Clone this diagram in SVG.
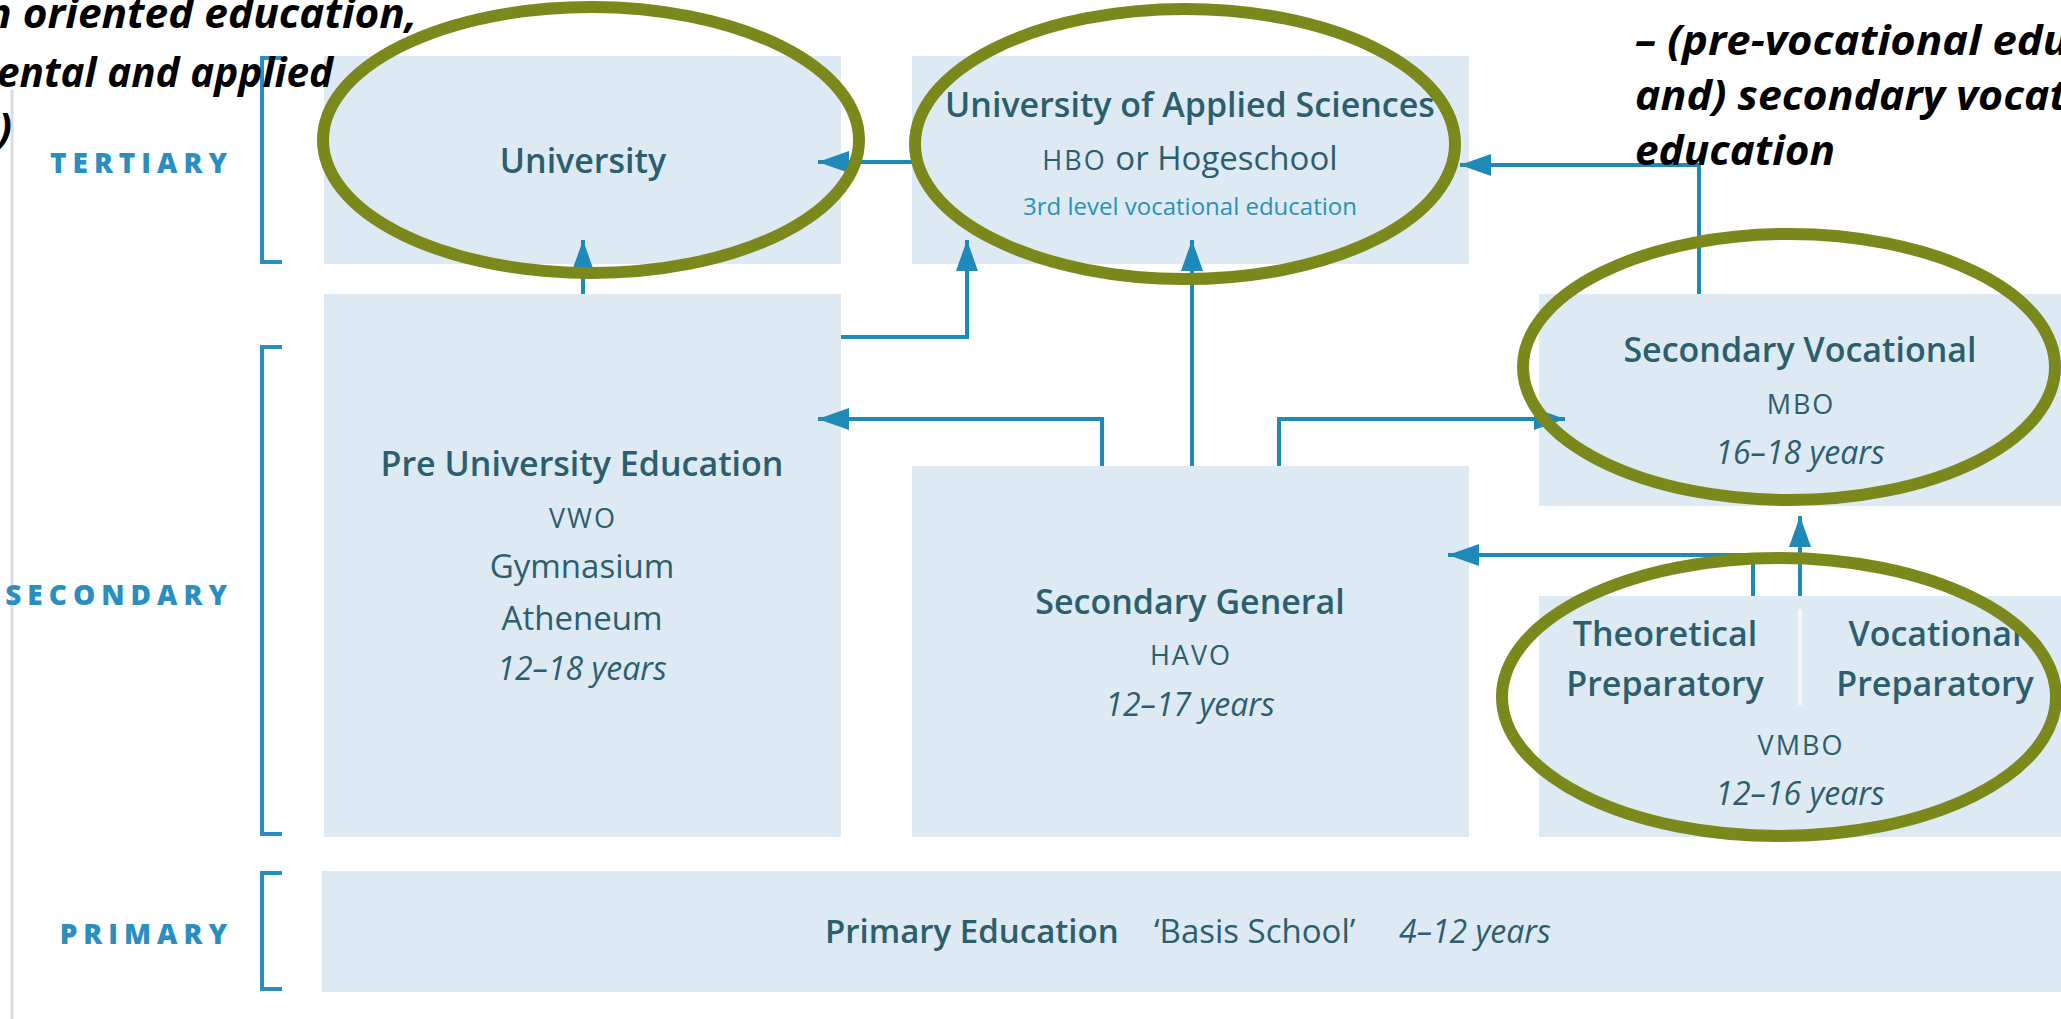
<svg xmlns="http://www.w3.org/2000/svg" width="2061" height="1019" viewBox="0 0 2061 1019">
<defs>
<style>
.box{fill:#dde9f3}
.t{font-family:"Open Sans",Lato,sans-serif;fill:#2c5f6d;text-anchor:middle}
.title{font-size:34px;font-weight:600}
.sub{font-size:33px}
.sc{font-size:27px;letter-spacing:2px}
.yr{font-size:32px;font-style:italic}
.small{font-size:24px;fill:#2a92b6}
.lvl{font-family:"Open Sans",Lato,sans-serif;font-weight:800;font-size:28px;fill:#2a8fc0;letter-spacing:6px;text-anchor:end}
.conn{stroke:#1f8ab8;stroke-width:4;fill:none}
.br{stroke:#2a8fc0;stroke-width:4;fill:none}
.hl{fill:none;stroke:#7b881b;stroke-width:12}
.note{font-family:"Open Sans",Lato,sans-serif;font-weight:bold;font-style:italic;font-size:42px;fill:#000}
</style>
<marker id="arr" markerUnits="userSpaceOnUse" markerWidth="31" markerHeight="22" refX="31" refY="11" orient="auto">
<path d="M0,0 L31,11 L0,22 z" fill="#1f8ab8"/>
</marker>
</defs>
<rect width="2061" height="1019" fill="#fff"/>
<line x1="12" y1="90" x2="12" y2="1019" stroke="#dcdcdc" stroke-width="3"/>

<g id="levels">
<text class="lvl" x="233" y="173">TERTIARY</text>
<text class="lvl" x="233" y="605">SECONDARY</text>
<text class="lvl" x="233" y="944">PRIMARY</text>
<path class="br" d="M282,58 H262 V262 H282"/>
<path class="br" d="M282,347 H262 V834 H282"/>
<path class="br" d="M282,873 H262 V989 H282"/>
</g>

<g id="university">
<rect class="box" x="324" y="56" width="517" height="208"/>
<text class="t title" x="583" y="173">University</text>
</g>

<g id="uas">
<rect class="box" x="912" y="56" width="557" height="208"/>
<text class="t title" x="1190" y="117">University of Applied Sciences</text>
<text class="t sub" x="1190" y="170"><tspan class="sc">HBO</tspan> or Hogeschool</text>
<text class="t small" x="1190" y="215">3rd level vocational education</text>
</g>

<g id="preuniversity">
<rect class="box" x="324" y="294" width="517" height="543"/>
<text class="t title" x="582" y="476">Pre University Education</text>
<text class="t sc" x="583" y="528">VWO</text>
<text class="t sub" x="582" y="578">Gymnasium</text>
<text class="t sub" x="582" y="630">Atheneum</text>
<text class="t yr" x="582" y="680">12–18 years</text>
</g>

<g id="secgeneral">
<rect class="box" x="912" y="466" width="557" height="371"/>
<text class="t title" x="1190" y="614">Secondary General</text>
<text class="t sc" x="1191" y="665">HAVO</text>
<text class="t yr" x="1190" y="716">12–17 years</text>
</g>

<g id="secvocational">
<rect class="box" x="1539" y="294" width="522" height="212"/>
<text class="t title" x="1800" y="362">Secondary Vocational</text>
<text class="t sc" x="1801" y="414">MBO</text>
<text class="t yr" x="1800" y="464">16–18 years</text>
</g>

<g id="vmbo">
<rect class="box" x="1539" y="596" width="522" height="241"/>
<line x1="1800" y1="609" x2="1800" y2="705" stroke="#f4f8fb" stroke-width="4"/>
<text class="t title" x="1665" y="646">Theoretical</text>
<text class="t title" x="1665" y="696">Preparatory</text>
<text class="t title" x="1935" y="646">Vocational</text>
<text class="t title" x="1935" y="696">Preparatory</text>
<text class="t sc" x="1801" y="755">VMBO</text>
<text class="t yr" x="1800" y="805">12–16 years</text>
</g>

<g id="primary">
<rect class="box" x="322" y="871" width="1739" height="121"/>
<text class="t title" x="825" y="943" style="text-anchor:start;font-size:33px">Primary Education</text>
<text class="t sub" x="1154" y="943" style="text-anchor:start">‘Basis School’</text>
<text class="t yr" x="1399" y="943" style="text-anchor:start">4–12 years</text>
</g>

<g id="connectors">
<path class="conn" d="M912,162 H818" marker-end="url(#arr)"/>
<path class="conn" d="M583,294 V240" marker-end="url(#arr)"/>
<path class="conn" d="M841,337 H967 V240" marker-end="url(#arr)"/>
<path class="conn" d="M1192,466 V240" marker-end="url(#arr)"/>
<path class="conn" d="M1102,466 V419 H818" marker-end="url(#arr)"/>
<path class="conn" d="M1279,466 V419 H1565" marker-end="url(#arr)"/>
<path class="conn" d="M1699,294 V165 H1460" marker-end="url(#arr)"/>
<path class="conn" d="M1753,596 V555 H1448" marker-end="url(#arr)"/>
<path class="conn" d="M1800,596 V516" marker-end="url(#arr)"/>
</g>

<g id="highlights">
<ellipse class="hl" cx="591" cy="140" rx="268" ry="133"/>
<ellipse class="hl" cx="1185" cy="144" rx="270" ry="135"/>
<ellipse class="hl" cx="1789" cy="367" rx="266" ry="133"/>
<ellipse class="hl" cx="1779" cy="697" rx="277" ry="139"/>
</g>

<g id="notes">
<text class="note" x="-14" y="28" textLength="431" lengthAdjust="spacingAndGlyphs">h oriented education,</text>
<text class="note" x="-3" y="87" textLength="336" lengthAdjust="spacingAndGlyphs">ental and applied</text>
<text class="note" x="12" y="143" text-anchor="end">)</text>
<text class="note" x="1635" y="55" textLength="434" lengthAdjust="spacingAndGlyphs">– (pre-vocational edu</text>
<text class="note" x="1635" y="110" textLength="432" lengthAdjust="spacingAndGlyphs">and) secondary vocat</text>
<text class="note" x="1635" y="165" textLength="200" lengthAdjust="spacingAndGlyphs">education</text>
</g>
</svg>
